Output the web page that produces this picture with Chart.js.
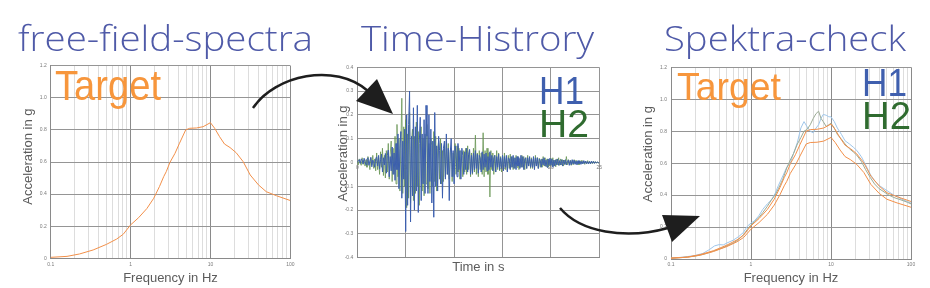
<!DOCTYPE html>
<html>
<head>
<meta charset="utf-8">
<title>free-field-spectra / Time-Histrory / Spektra-check</title>
<script src="https://cdn.jsdelivr.net/npm/chart.js@4"></script>
<style>
  html, body { margin: 0; padding: 0; background: #fff; }
  #stage { position: relative; width: 930px; height: 288px; overflow: hidden; }
  #stage canvas { position: absolute; }
  #overlay { position: absolute; left: 0; top: 0; pointer-events: none; }
  .title { font-family: 'Open Sans', sans-serif; font-weight: 300; font-size: 34px; fill: #4f5aa8; }
  .big { font-family: 'Liberation Sans', Arial, sans-serif; }
</style>
</head>
<body>
<div id="stage">
  <canvas id="spectra-chart" width="310" height="233" style="left:0;top:55px"></canvas>
  <canvas id="history-chart" width="300" height="233" style="left:320px;top:55px"></canvas>
  <canvas id="check-chart" width="310" height="233" style="left:620px;top:55px"></canvas>
  <svg id="overlay" width="930" height="288">
    <text class="title" x="18" y="51" textLength="295" lengthAdjust="spacingAndGlyphs">free-field-spectra</text>
    <text class="title" x="361" y="51" textLength="233" lengthAdjust="spacingAndGlyphs">Time-Histrory</text>
    <text class="title" x="664" y="51" textLength="242" lengthAdjust="spacingAndGlyphs">Spektra-check</text>

    <text class="big" x="55" y="100" font-size="43" fill="#f7963c" textLength="106" lengthAdjust="spacingAndGlyphs">Target</text>
    <text class="big" x="539" y="104" font-size="39" fill="#3f5fae" textLength="45" lengthAdjust="spacingAndGlyphs">H1</text>
    <text class="big" x="539" y="137" font-size="39" fill="#2f6b2f" textLength="50" lengthAdjust="spacingAndGlyphs">H2</text>
    <text class="big" x="677" y="100" font-size="39" fill="#f7963c" textLength="104" lengthAdjust="spacingAndGlyphs">Target</text>
    <text class="big" x="862" y="96" font-size="39" fill="#3f5fae" textLength="45" lengthAdjust="spacingAndGlyphs">H1</text>
    <text class="big" x="862" y="129" font-size="39" fill="#2f6b2f" textLength="49" lengthAdjust="spacingAndGlyphs">H2</text>

    <path d="M253,108 C275,75 335,62 368,91" stroke="#1e1e1e" stroke-width="2.5" fill="none"/>
    <polygon points="377,79 356,101 393,114" fill="#1e1e1e"/>
    <path d="M560,208 C580,232 625,240 668,228" stroke="#1e1e1e" stroke-width="2.5" fill="none"/>
    <polygon points="662,215 700,216 672,242" fill="#1e1e1e"/>
  </svg>
</div>
<script>
// Target spectrum (free field)
const targetFreq = [0.1, 0.16, 0.23, 0.34, 0.5, 0.67, 0.81, 1, 1.26, 1.6, 1.95, 2.3, 2.6, 2.8, 3.1, 3.6, 4.1, 4.9, 5.5, 6.7, 8.1, 10, 11.3, 13, 15, 17.6, 21, 25.7, 31.5, 40, 50, 67, 100];
const targetAccel = [0.006, 0.012, 0.027, 0.052, 0.087, 0.12, 0.15, 0.208, 0.253, 0.31, 0.374, 0.447, 0.509, 0.54, 0.596, 0.654, 0.717, 0.8, 0.81, 0.812, 0.82, 0.845, 0.81, 0.758, 0.712, 0.69, 0.658, 0.602, 0.519, 0.457, 0.415, 0.39, 0.36];
const targetLower = [0.005, 0.011, 0.024, 0.047, 0.078, 0.108, 0.135, 0.187, 0.228, 0.279, 0.337, 0.402, 0.458, 0.486, 0.536, 0.589, 0.645, 0.72, 0.729, 0.731, 0.738, 0.761, 0.729, 0.682, 0.641, 0.621, 0.592, 0.542, 0.467, 0.411, 0.374, 0.351, 0.324];

// Response spectra of the generated histories
const specFreq = [0.1, 0.13, 0.16, 0.2, 0.25, 0.3, 0.35, 0.4, 0.45, 0.5,
  0.6, 0.7, 0.8, 0.9, 1.0, 1.1, 1.25, 1.4, 1.6, 1.8,
  2.0, 2.2, 2.5, 2.8, 3.1, 3.4, 3.8, 4.2, 4.6, 5.0,
  5.5, 6.0, 6.5, 7.0, 7.5, 8.0, 8.7, 9.4, 10, 11,
  12, 13.5, 15, 17, 19, 21, 24, 27, 31, 35,
  40, 46, 53, 61, 70, 80, 90, 100];
const specH1 = [0.006, 0.010, 0.015, 0.022, 0.035, 0.058, 0.082, 0.090, 0.088, 0.100,
  0.118, 0.140, 0.165, 0.205, 0.225, 0.238, 0.270, 0.310, 0.345, 0.370,
  0.410, 0.460, 0.520, 0.575, 0.600, 0.660, 0.730, 0.820, 0.860, 0.830,
  0.800, 0.790, 0.820, 0.840, 0.880, 0.905, 0.900, 0.890, 0.890, 0.860,
  0.820, 0.780, 0.740, 0.720, 0.700, 0.680, 0.640, 0.590, 0.530, 0.490,
  0.460, 0.440, 0.420, 0.400, 0.385, 0.370, 0.360, 0.350];
const specH2 = [0.005, 0.008, 0.012, 0.018, 0.028, 0.040, 0.052, 0.062, 0.072, 0.082,
  0.100, 0.122, 0.150, 0.185, 0.215, 0.232, 0.258, 0.290, 0.330, 0.370,
  0.400, 0.440, 0.500, 0.570, 0.620, 0.660, 0.720, 0.760, 0.800, 0.810,
  0.840, 0.880, 0.910, 0.925, 0.880, 0.860, 0.830, 0.840, 0.850, 0.820,
  0.780, 0.750, 0.720, 0.690, 0.670, 0.650, 0.610, 0.560, 0.510, 0.470,
  0.440, 0.420, 0.400, 0.385, 0.375, 0.365, 0.355, 0.345];

// Time histories, one value every 0.1 s from 0 to 25 s
const timeStep = 0.1;
const histH1 = [
  0.000, 0.008, 0.012, -0.004, 0.015, 0.010, -0.006, 0.018, 0.004, -0.010,
  0.014, 0.020, -0.012, 0.006, 0.022, -0.018, 0.010, 0.003, -0.020, 0.016,
  0.024, -0.015, 0.030, -0.028, 0.012, 0.035, -0.040, 0.020, -0.010, 0.038,
  -0.045, 0.030, 0.052, -0.060, 0.025, -0.035, 0.065, -0.050, 0.040, -0.075,
  0.080, -0.030, 0.120, -0.110, 0.060, 0.130, -0.150, 0.090, -0.070, 0.140,
  -0.290, 0.200, -0.180, 0.160, 0.300, -0.250, 0.110, -0.140, 0.230, -0.200,
  0.150, -0.120, 0.240, -0.210, 0.080, 0.190, -0.160, 0.120, -0.090, 0.180,
  -0.130, 0.240, 0.110, -0.130, 0.200, -0.080, 0.140, -0.170, 0.090, -0.230,
  0.210, -0.100, 0.070, -0.120, 0.110, 0.050, -0.090, 0.080, -0.150, 0.060,
  0.090, -0.070, 0.120, -0.050, 0.060, -0.160, 0.040, 0.100, -0.060, 0.050,
  -0.090, 0.070, 0.040, -0.060, 0.080, -0.030, 0.050, -0.070, 0.060, 0.030,
  -0.050, 0.045, -0.030, 0.060, -0.040, 0.035, 0.055, -0.050, 0.030, -0.045,
  0.040, -0.030, 0.050, -0.025, 0.035, -0.045, 0.030, 0.020, -0.040, 0.045,
  -0.030, 0.035, -0.020, 0.040, -0.035, 0.025, -0.030, 0.045, -0.020, 0.030,
  -0.035, 0.020, 0.030, -0.040, 0.025, -0.020, 0.035, -0.030, 0.020, -0.025,
  0.030, -0.035, 0.025, -0.020, 0.030, -0.040, 0.020, 0.015, -0.030, 0.025,
  -0.020, 0.030, -0.025, 0.020, -0.030, 0.025, -0.015, 0.020, -0.025, 0.030,
  -0.020, 0.025, -0.030, 0.015, 0.020, -0.025, 0.020, -0.015, 0.025, -0.020,
  0.015, -0.020, 0.025, -0.030, 0.020, -0.015, 0.020, -0.025, 0.015, 0.010,
  -0.020, 0.015, -0.010, 0.020, -0.015, 0.010, -0.020, 0.015, -0.010, 0.018,
  -0.012, 0.015, -0.020, 0.010, -0.015, 0.012, -0.010, 0.015, -0.012, 0.008,
  -0.010, 0.012, -0.015, 0.010, -0.008, 0.012, -0.010, 0.006, 0.010, -0.012,
  0.008, -0.010, 0.012, -0.006, 0.010, -0.008, 0.006, -0.010, 0.008, -0.005,
  0.006, -0.008, 0.005, -0.006, 0.008, -0.004, 0.006, -0.005, 0.004, -0.006,
  0.004, -0.005, 0.006, -0.003, 0.004, -0.004, 0.003, -0.002, 0.002, -0.001,
  0.000];
const histH2 = [
  0.005, -0.010, 0.015, 0.000, -0.012, 0.020, -0.008, 0.010, -0.015, 0.012,
  -0.020, 0.025, 0.005, -0.030, 0.018, -0.010, 0.030, -0.025, 0.015, -0.035,
  0.040, -0.030, 0.020, -0.050, 0.045, -0.020, 0.060, -0.055, 0.030, -0.065,
  0.050, -0.040, 0.080, -0.070, 0.035, 0.090, -0.080, 0.060, -0.050, 0.110,
  -0.090, 0.160, -0.060, 0.100, -0.120, 0.080, 0.270, -0.130, 0.150, -0.100,
  0.180, -0.190, 0.120, -0.150, 0.210, -0.170, 0.090, 0.140, -0.160, 0.110,
  -0.130, 0.170, -0.100, 0.130, -0.180, 0.090, 0.150, -0.120, 0.100, -0.140,
  0.120, -0.090, 0.160, -0.110, 0.080, -0.130, 0.100, 0.070, -0.100, 0.130,
  -0.080, 0.110, -0.120, 0.060, 0.090, -0.070, 0.100, -0.090, 0.050, -0.080,
  0.070, -0.060, 0.090, -0.050, 0.080, -0.070, 0.050, 0.060, -0.080, 0.040,
  -0.060, 0.080, -0.050, 0.070, -0.040, 0.060, -0.070, 0.050, 0.040, -0.060,
  0.050, -0.040, 0.060, -0.050, 0.070, -0.030, 0.050, -0.060, 0.040, -0.050,
  0.060, -0.040, 0.115, -0.050, 0.040, -0.060, 0.050, -0.030, 0.040, -0.050,
  0.125, -0.060, 0.050, -0.040, 0.060, -0.050, 0.040, -0.145, 0.050, -0.030,
  0.040, -0.050, 0.030, -0.040, 0.050, -0.030, 0.040, -0.035, 0.025, -0.040,
  0.030, -0.025, 0.040, -0.030, 0.020, -0.035, 0.030, -0.025, 0.035, -0.020,
  0.025, -0.030, 0.020, -0.025, 0.030, -0.020, 0.025, -0.030, 0.015, -0.020,
  0.030, -0.020, 0.025, -0.030, 0.020, -0.025, 0.030, -0.015, 0.020, -0.025,
  0.020, -0.025, 0.015, -0.020, 0.030, -0.015, 0.020, -0.025, 0.018, -0.020,
  0.015, -0.020, 0.025, -0.015, 0.020, -0.018, 0.015, -0.020, 0.012, -0.015,
  0.018, -0.012, 0.020, -0.015, 0.010, -0.018, 0.015, -0.010, 0.020, -0.012,
  0.015, -0.010, 0.012, -0.015, 0.010, -0.008, 0.025, -0.010, 0.012, -0.008,
  0.010, -0.012, 0.008, -0.010, 0.012, -0.006, 0.010, -0.008, 0.006, -0.010,
  0.008, -0.006, 0.010, -0.005, 0.006, -0.008, 0.005, -0.006, 0.008, -0.004,
  0.005, -0.006, 0.004, -0.005, 0.006, -0.003, 0.004, -0.003, 0.002, -0.002,
  0.000];

// Axis ticks
const freqTickLabels = [0.1, 1, 10, 100];
const logDecades = [0.1, 1, 10];
const logMultipliers = [1, 2, 3, 4, 5, 6, 7, 8, 9];
const timeTicks = [0, 5, 10, 15, 20, 25];

// Colours
const orange = '#f2904a';
const blue = '#3c5fae';
const green = 'rgba(105, 150, 85, 0.8)';
const lightBlue = '#9fc6ea';
const greyGreen = '#9cab94';

const logGridValues = [];
logDecades.forEach(d => logMultipliers.forEach(m => logGridValues.push(+(d * m).toFixed(3))));
logGridValues.push(100);

const isDecade = v => Math.abs(Math.log10(v) - Math.round(Math.log10(v))) < 1e-6;
const tickFont = { family: 'Liberation Sans', size: 5 };
const titleFont = { family: 'Liberation Sans', size: 13 };
const tickColor = '#7a7a7a';
const titleColor = '#5c5c5c';
const gridDark = '#959595';

function xy(xs, ys) {
  return ys.map((v, i) => ({ x: xs[i], y: v }));
}

function freqAxis(height) {
  return {
    type: 'logarithmic',
    min: 0.1,
    max: 100,
    afterBuildTicks: s => { s.ticks = logGridValues.map(v => ({ value: v })); },
    afterFit: s => { s.height = height; },
    ticks: {
      autoSkip: false,
      maxRotation: 0,
      font: tickFont,
      color: tickColor,
      padding: 3,
      callback: v => {
        const t = freqTickLabels.find(f => Math.abs(f - v) / f < 1e-6);
        return t === undefined ? '' : String(t);
      }
    },
    grid: {
      drawTicks: false,
      color: ctx => (ctx.tick && isDecade(ctx.tick.value)) ? '#8a8a8a' : '#dddddd'
    },
    border: { color: '#8a8a8a' },
    title: { display: true, text: 'Frequency in Hz', font: titleFont, color: titleColor, padding: { top: 0, bottom: 2.2 } }
  };
}

function accelAxis(width, titlePad, label) {
  return {
    type: 'linear',
    min: 0,
    max: 1.2,
    afterFit: s => { s.width = width; },
    ticks: { stepSize: 0.2, font: tickFont, color: tickColor, padding: 4 },
    grid: { drawTicks: false, color: gridDark },
    border: { color: '#8a8a8a' },
    title: { display: true, text: label, font: titleFont, color: titleColor, padding: { top: titlePad, bottom: 0 } }
  };
}

const common = {
  responsive: false,
  animation: false,
  devicePixelRatio: 1,
  plugins: { legend: { display: false }, tooltip: { enabled: false } },
  elements: { point: { radius: 0 }, line: { borderWidth: 1, tension: 0 } }
};

// free-field-spectra
new Chart(document.getElementById('spectra-chart'), {
  type: 'line',
  data: {
    datasets: [{ label: 'Target', data: xy(targetFreq, targetAccel), borderColor: orange }]
  },
  options: {
    ...common,
    layout: { padding: { top: 10.7, right: 19.7, left: 0, bottom: 0 } },
    scales: {
      x: freqAxis(29.7),
      y: accelAxis(50.7, 20.5, '   Acceleration in g')
    }
  }
});

// Time-Histrory
new Chart(document.getElementById('history-chart'), {
  type: 'line',
  data: {
    datasets: [
      { label: 'H1', data: histH1.map((v, i) => ({ x: i * timeStep, y: v })), borderColor: blue },
      { label: 'H2', data: histH2.map((v, i) => ({ x: i * timeStep, y: v })), borderColor: green }
    ]
  },
  options: {
    ...common,
    layout: { padding: { top: 12.3, right: 20.7, left: 0, bottom: 0 } },
    scales: {
      x: {
        type: 'linear',
        min: 0,
        max: 25,
        afterBuildTicks: s => { s.ticks = timeTicks.map(v => ({ value: v })); },
        afterFit: s => { s.height = 30.3; },
        ticks: { display: false },
        grid: { drawTicks: false, color: gridDark },
        border: { color: '#8a8a8a' },
        title: { display: true, text: 'Time in s', font: titleFont, color: titleColor, padding: { top: 0, bottom: 13.2 } }
      },
      x2: {
        axis: 'x',
        type: 'linear',
        position: { y: 0 },
        min: 0,
        max: 25,
        afterBuildTicks: s => { s.ticks = timeTicks.map(v => ({ value: v })); },
        ticks: { font: tickFont, color: tickColor, padding: 2, maxRotation: 0, autoSkip: false },
        grid: { display: false, drawTicks: false },
        border: { display: false }
      },
      y: {
        type: 'linear',
        min: -0.4,
        max: 0.4,
        afterFit: s => { s.width = 37.3; },
        ticks: { stepSize: 0.1, font: tickFont, color: tickColor, padding: 4 },
        grid: { drawTicks: false, color: gridDark },
        border: { color: '#8a8a8a' },
        title: { display: true, text: '     Acceleration in g', font: titleFont, color: titleColor, padding: { top: 15.2, bottom: 0 } }
      }
    }
  }
});

// Spektra-check
new Chart(document.getElementById('check-chart'), {
  type: 'line',
  data: {
    datasets: [
      { label: 'Target', data: xy(targetFreq, targetAccel), borderColor: orange },
      { label: 'Target lower', data: xy(targetFreq, targetLower), borderColor: orange },
      { label: 'H2', data: xy(specFreq, specH2), borderColor: greyGreen },
      { label: 'H1', data: xy(specFreq, specH1), borderColor: lightBlue }
    ]
  },
  options: {
    ...common,
    layout: { padding: { top: 12.3, right: 19, left: 0, bottom: 0 } },
    scales: {
      x: freqAxis(29),
      y: accelAxis(51, 20.2, '     Acceleration in g')
    }
  }
});
</script>
</body>
</html>
